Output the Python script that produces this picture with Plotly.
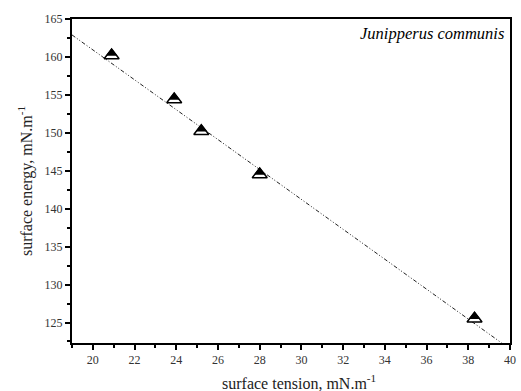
import plotly.graph_objects as go

# data
tension = [20.9, 23.9, 25.2, 28.0, 38.3]
energy = [160.2, 154.4, 150.2, 144.5, 125.5]
fit_x = [19.0, 39.6]
fit_y = [162.9, 122.3]

serif = "Liberation Serif"

fig = go.Figure()
fig.add_trace(go.Scatter(x=fit_x, y=fit_y, mode="lines",
                         line=dict(color="#222", width=1, dash="4px,2px,1px,2px,1px,2px"),
                         showlegend=False, hoverinfo="skip"))
# outline triangle (white inside)
fig.add_trace(go.Scatter(x=tension, y=energy, mode="markers",
                         marker=dict(symbol="triangle-up", size=13, color="white",
                                     line=dict(color="black", width=1.5)),
                         showlegend=False, hoverinfo="skip"))
# filled triangle raised slightly, leaving a white band at the bottom
fig.add_trace(go.Scatter(x=tension, y=[e + 0.3 for e in energy], mode="markers",
                         marker=dict(symbol="triangle-up", size=10, color="black",
                                     line=dict(width=0)),
                         showlegend=False))

fig.add_annotation(x=1, y=1, xref="paper", yref="paper", xanchor="right", yanchor="top",
                   xshift=-4, yshift=-3,
                   text="<i>Junipperus communis</i>", showarrow=False,
                   font=dict(family=serif, size=16.5, color="black"))

# x-axis title (placed slightly right of centre as in the reference)
fig.add_annotation(x=0.518, y=0, xref="paper", yref="paper", xanchor="center", yanchor="top",
                   yshift=-27, text="surface tension, mN.m<sup>-1</sup>", showarrow=False,
                   font=dict(family=serif, size=16, color="#222"))

axis_common = dict(showline=True, linecolor="black", linewidth=2, mirror=True,
                   showgrid=False, zeroline=False, ticks="outside", ticklen=5,
                   tickwidth=1.5, tickcolor="black",
                   tickfont=dict(family=serif, size=12, color="#333"))

fig.update_xaxes(range=[19, 40], dtick=2, tick0=20,
                 minor=dict(ticks="outside", ticklen=3, tickwidth=1.5, dtick=1, tick0=19,
                            tickcolor="black"),
                 **axis_common)
fig.update_yaxes(range=[122.3, 165], dtick=5, tick0=125,
                 minor=dict(ticks="outside", ticklen=3, tickwidth=1.5, dtick=2.5, tick0=125,
                            tickcolor="black"),
                 title=dict(text="surface energy, mN.m<sup>-1</sup>",
                            font=dict(family=serif, size=16, color="#222"), standoff=8),
                 **axis_common)

fig.update_layout(width=521, height=391, margin=dict(l=72, r=5, t=19, b=48),
                  plot_bgcolor="white", paper_bgcolor="white")

fig.write_html("out.html")
